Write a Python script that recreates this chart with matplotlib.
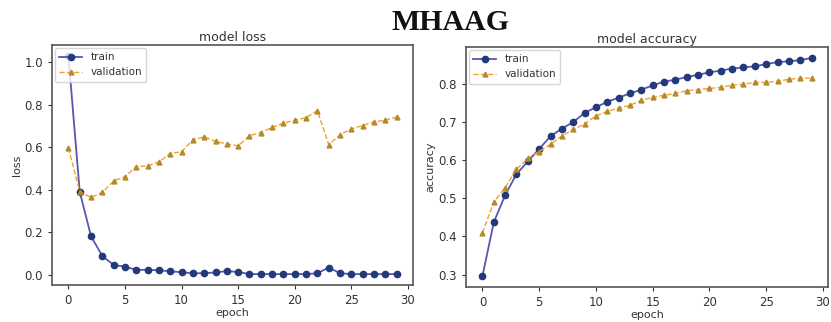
import numpy as np
import matplotlib.pyplot as plt

epochs = np.arange(30)

train_loss = [1.03, 0.39, 0.18, 0.087, 0.045, 0.037, 0.022, 0.022, 0.02, 0.015,
              0.011, 0.006, 0.006, 0.01, 0.016, 0.012, 0.002, 0.002, 0.002, 0.002,
              0.002, 0.002, 0.006, 0.033, 0.006, 0.002, 0.002, 0.002, 0.002, 0.002]
val_loss = [0.596, 0.39, 0.363, 0.387, 0.441, 0.461, 0.508, 0.512, 0.531, 0.570,
            0.579, 0.634, 0.649, 0.627, 0.616, 0.606, 0.654, 0.669, 0.693, 0.713,
            0.727, 0.739, 0.772, 0.612, 0.658, 0.686, 0.702, 0.719, 0.727, 0.742]

train_acc = [0.296, 0.437, 0.508, 0.563, 0.596, 0.629, 0.662, 0.682, 0.699, 0.723,
             0.738, 0.752, 0.763, 0.774, 0.784, 0.795, 0.805, 0.810, 0.817, 0.823,
             0.829, 0.834, 0.839, 0.842, 0.845, 0.851, 0.856, 0.858, 0.861, 0.867]
val_acc = [0.409, 0.490, 0.527, 0.576, 0.604, 0.622, 0.641, 0.663, 0.680, 0.694,
           0.715, 0.727, 0.736, 0.743, 0.756, 0.764, 0.769, 0.774, 0.781, 0.784,
           0.787, 0.790, 0.796, 0.798, 0.803, 0.803, 0.806, 0.811, 0.814, 0.814]

LINE_T = "#5a55b0"
MARK_T = "#22397a"
LINE_V = "#f0a22e"
MARK_V = "#b58a2c"
TXT = "#333333"


def draw(ax, tr, va, title, ylabel):
    """
    One training-history panel
    """
    ax.plot(epochs, tr, color=LINE_T, lw=1.3, marker="o", ms=4.5,
            mfc=MARK_T, mec=MARK_T, label="train")
    ax.plot(epochs, va, color=LINE_V, lw=1.0, ls="--", marker="^", ms=3.5,
            mfc=MARK_V, mec=MARK_V, label="validation")
    ax.set_title(title, fontsize=9, color=TXT, pad=3)
    ax.set_xlabel("epoch", fontsize=8, color=TXT, labelpad=1)
    ax.set_ylabel(ylabel, fontsize=8, color=TXT, labelpad=2)
    ax.set_xticks([0, 5, 10, 15, 20, 25, 30])
    ax.tick_params(labelsize=8.5, colors=TXT, length=3)
    for s in ax.spines.values():
        s.set_color("#555555")
        s.set_linewidth(1.2)
    ax.legend(loc="upper left", fontsize=7.5, borderaxespad=0.3,
              handlelength=2.2, labelcolor=TXT)


fig = plt.figure(figsize=(8.31, 3.22), dpi=100)

ax1 = fig.add_axes([52 / 831, 1 - 285 / 322, 361 / 831, 240 / 322])
draw(ax1, train_loss, val_loss, "model loss", "loss")

ax2 = fig.add_axes([466 / 831, 1 - 287 / 322, 362 / 831, 240 / 322])
draw(ax2, train_acc, val_acc, "model accuracy", "accuracy")

fig.text(0.542, 0.93, "MHAAG", ha="center", va="center", fontsize=21.5,
         fontweight="bold", family="Liberation Serif", color="#111111")

fig.savefig("out.png", dpi=100)
